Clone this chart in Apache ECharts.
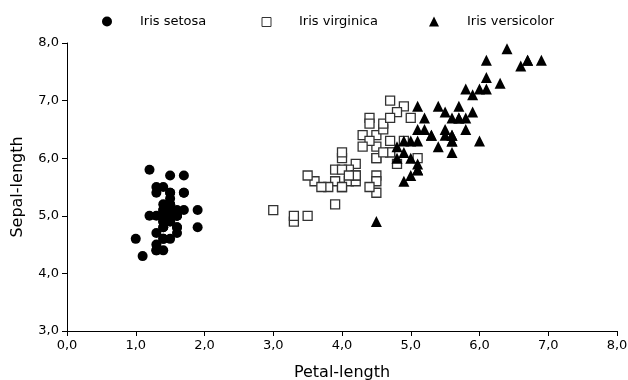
<!DOCTYPE html>
<html>
<head>
<meta charset="utf-8">
<title>Iris</title>
<style>
    html, body { margin: 0; padding: 0; background: #fff; }
    #chart { width: 628px; height: 380px; }
</style>
</head>
<body>
<div id="chart"></div>
<script src="https://cdn.jsdelivr.net/npm/echarts@6/dist/echarts.min.js"></script>
<script>
    // [petal-length, sepal-length]
    let setosa = [
        [1.4,5.1],[1.4,4.9],[1.3,4.7],[1.5,4.6],[1.4,5.0],[1.7,5.4],[1.4,4.6],[1.5,5.0],[1.4,4.4],[1.5,4.9],
        [1.5,5.4],[1.6,4.8],[1.4,4.8],[1.1,4.3],[1.2,5.8],[1.5,5.7],[1.3,5.4],[1.4,5.1],[1.7,5.7],[1.5,5.1],
        [1.7,5.4],[1.5,5.1],[1.0,4.6],[1.7,5.1],[1.9,4.8],[1.6,5.0],[1.6,5.0],[1.5,5.2],[1.4,5.2],[1.6,4.7],
        [1.6,4.8],[1.5,5.4],[1.5,5.2],[1.4,5.5],[1.5,4.9],[1.2,5.0],[1.3,5.5],[1.4,4.9],[1.3,4.4],[1.5,5.1],
        [1.3,5.0],[1.3,4.5],[1.3,4.4],[1.6,5.0],[1.9,5.1],[1.4,4.8],[1.6,5.1],[1.4,4.6],[1.5,5.3],[1.4,5.0]
    ];
    let virginica = [
        [4.7,7.0],[4.5,6.4],[4.9,6.9],[4.0,5.5],[4.6,6.5],[4.5,5.7],[4.7,6.3],[3.3,4.9],[4.6,6.6],[3.9,5.2],
        [3.5,5.0],[4.2,5.9],[4.0,6.0],[4.7,6.1],[3.6,5.6],[4.4,6.7],[4.5,5.6],[4.1,5.8],[4.5,6.2],[3.9,5.6],
        [4.8,5.9],[4.0,6.1],[4.9,6.3],[4.7,6.1],[4.3,6.4],[4.4,6.6],[4.8,6.8],[5.0,6.7],[4.5,6.0],[3.5,5.7],
        [3.8,5.5],[3.7,5.5],[3.9,5.8],[5.1,6.0],[4.5,5.4],[4.5,6.0],[4.7,6.7],[4.4,6.3],[4.1,5.6],[4.0,5.5],
        [4.4,5.5],[4.6,6.1],[4.0,5.8],[3.3,5.0],[4.2,5.6],[4.2,5.7],[4.2,5.7],[4.3,6.2],[3.0,5.1],[4.1,5.7]
    ];
    let versicolor = [
        [6.0,6.3],[5.1,5.8],[5.9,7.1],[5.6,6.3],[5.8,6.5],[6.6,7.6],[4.5,4.9],[6.3,7.3],[5.8,6.7],[6.1,7.2],
        [5.1,6.5],[5.3,6.4],[5.5,6.8],[5.0,5.7],[5.1,5.8],[5.3,6.4],[5.5,6.5],[6.7,7.7],[6.9,7.7],[5.0,6.0],
        [5.7,6.9],[4.9,5.6],[6.7,7.7],[4.9,6.3],[5.7,6.7],[6.0,7.2],[4.8,6.2],[4.9,6.1],[5.6,6.4],[5.8,7.2],
        [6.1,7.4],[6.4,7.9],[5.6,6.4],[5.1,6.3],[5.6,6.1],[6.1,7.7],[5.6,6.3],[5.5,6.4],[4.8,6.0],[5.4,6.9],
        [5.6,6.7],[5.1,6.9],[5.1,5.8],[5.9,6.8],[5.7,6.7],[5.2,6.7],[5.0,6.3],[5.2,6.5],[5.4,6.2],[5.1,5.9]
    ];
    let names = ['Iris setosa', 'Iris virginica', 'Iris versicolor'];

    let fmt = function (v) { return v.toFixed(1).replace('.', ','); };
    let axisText = { color: '#000', fontSize: 13, fontFamily: 'DejaVu Sans' };
    let nameText = { color: '#000', fontSize: 16, fontFamily: 'DejaVu Sans' };
    let legendText = { color: '#000', fontSize: 13, fontFamily: 'DejaVu Sans', padding: [0, 0, 0, 23] };

    // one legend per item so each sits where the reference has it
    function legendAt(name, left, size, extra) {
        return Object.assign({
            data: [name],
            top: 20 - size / 2,
            left: left - size / 2,
            padding: 0,
            itemWidth: size,
            itemHeight: size,
            textStyle: legendText
        }, extra || {});
    }

    let myChart = echarts.init(document.getElementById('chart'));
    let option = {
        animation: false,
        backgroundColor: '#fff',
        legend: [
            legendAt(names[0], 107, 10),
            legendAt(names[1], 266, 9, { itemStyle: { borderWidth: 1, borderColor: '#333' } }),
            legendAt(names[2], 434, 10)
        ],
        grid: { left: 67, right: 11, top: 43, bottom: 49, outerBoundsMode: 'none', containLabel: false },
        xAxis: {
            type: 'value',
            min: 0, max: 8, interval: 1,
            name: 'Petal-length',
            nameLocation: 'middle',
            nameGap: 34,
            nameTextStyle: nameText,
            axisLine: { lineStyle: { color: '#000', width: 1 } },
            axisTick: { show: true, length: 5, lineStyle: { color: '#000' } },
            axisLabel: Object.assign({ formatter: fmt, margin: 8 }, axisText),
            splitLine: { show: false }
        },
        yAxis: {
            type: 'value',
            min: 3, max: 8, interval: 1,
            name: 'Sepal-length',
            nameLocation: 'middle',
            nameGap: 41,
            nameTextStyle: nameText,
            axisLine: { show: true, lineStyle: { color: '#000', width: 1 } },
            axisTick: { show: true, length: 5, lineStyle: { color: '#000' } },
            axisLabel: Object.assign({ formatter: fmt, margin: 8 }, axisText),
            splitLine: { show: false }
        },
        series: [
            {
                name: names[0], type: 'scatter', data: setosa,
                symbol: 'circle', symbolSize: 10,
                itemStyle: { color: '#000', opacity: 1 }
            },
            {
                name: names[1], type: 'scatter', data: virginica,
                symbol: 'rect', symbolSize: 9,
                itemStyle: { color: '#fff', borderColor: '#333', borderWidth: 1.3, opacity: 1 }
            },
            {
                name: names[2], type: 'scatter', data: versicolor,
                symbol: 'triangle', symbolSize: 11,
                itemStyle: { color: '#000', opacity: 1 }
            }
        ]
    };
    myChart.setOption(option);
</script>
</body>
</html>
